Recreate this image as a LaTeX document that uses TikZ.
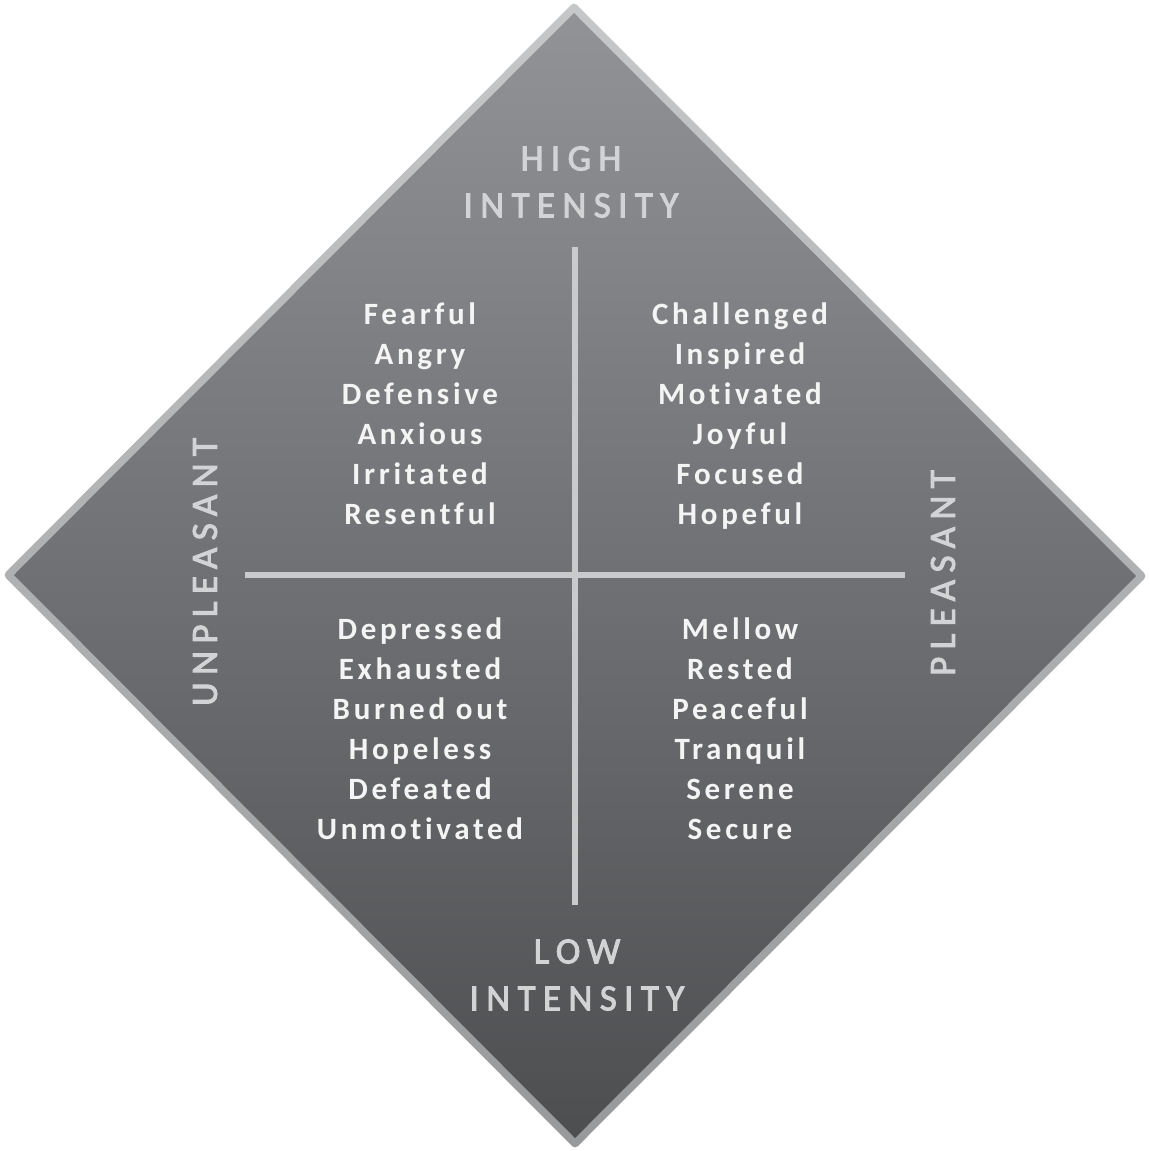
\documentclass[tikz,border=0pt]{standalone}
\usepackage{fontspec}
\setmainfont{Carlito}
\newfontfamily\wordfont[LetterSpace=12,Ligatures={NoCommon}]{Carlito}
\newfontfamily\labfont[LetterSpace=20,FakeBold=2.5,Ligatures={NoCommon}]{Carlito}
\definecolor{bordtop}{HTML}{C6C7C9}
\definecolor{bordbot}{HTML}{98999B}
\definecolor{filltop}{HTML}{929397}
\definecolor{fillbot}{HTML}{4D4E50}
\definecolor{crossc}{HTML}{C9CACC}
\definecolor{wordc}{HTML}{F4F4F4}
\definecolor{labc}{HTML}{D2D3D5}
\begin{document}
\begin{tikzpicture}[x=1pt,y=-1pt,
  wordlist/.style={font=\wordfont\bfseries\fontsize{31}{40}\selectfont, text=wordc, align=center, inner sep=0pt, anchor=north},
  axislab/.style={font=\labfont\fontsize{37}{47}\selectfont, text=labc, align=center, inner sep=0pt},
  crossline/.style={draw=crossc, line width=6pt}]
\useasboundingbox (0,0) rectangle (1150,1151);
\fill[white] (0,0) rectangle (1150,1151);
\shade[top color=bordtop, bottom color=bordbot, rounded corners=4pt]
  (574,2) -- (1147,576) -- (575,1149) -- (3,575) -- cycle;
\shade[top color=filltop, bottom color=fillbot]
  (574,13) -- (1136,576) -- (575,1138) -- (14,575) -- cycle;
\coordinate (vt) at (575,247);
\coordinate (vb) at (575,905);
\coordinate (hl) at (245,575);
\coordinate (hr) at (905,575);
\draw[crossline] (vt) -- (vb);
\draw[crossline] (hl) -- (hr);
\node[axislab] (high) at (571,182) {HIGH\\INTENSITY};
\node[axislab] (low) at (577,975) {LOW\\INTENSITY};
\node[axislab, rotate=90] (unpl) at (205,572) {UNPLEASANT};
\node[axislab, rotate=90] (pl) at (943,573) {PLEASANT};
\node[wordlist] (tl) at (420,303) {Fearful\\Angry\\Defensive\\Anxious\\Irritated\\Resentful};
\node[wordlist] (tr) at (740,303) {Challenged\\Inspired\\Motivated\\Joyful\\Focused\\Hopeful};
\node[wordlist] (bl) at (420,618) {Depressed\\Exhausted\\Burned out\\Hopeless\\Defeated\\Unmotivated};
\node[wordlist] (br) at (740,618) {Mellow\\Rested\\Peaceful\\Tranquil\\Serene\\Secure};
\end{tikzpicture}
\end{document}
